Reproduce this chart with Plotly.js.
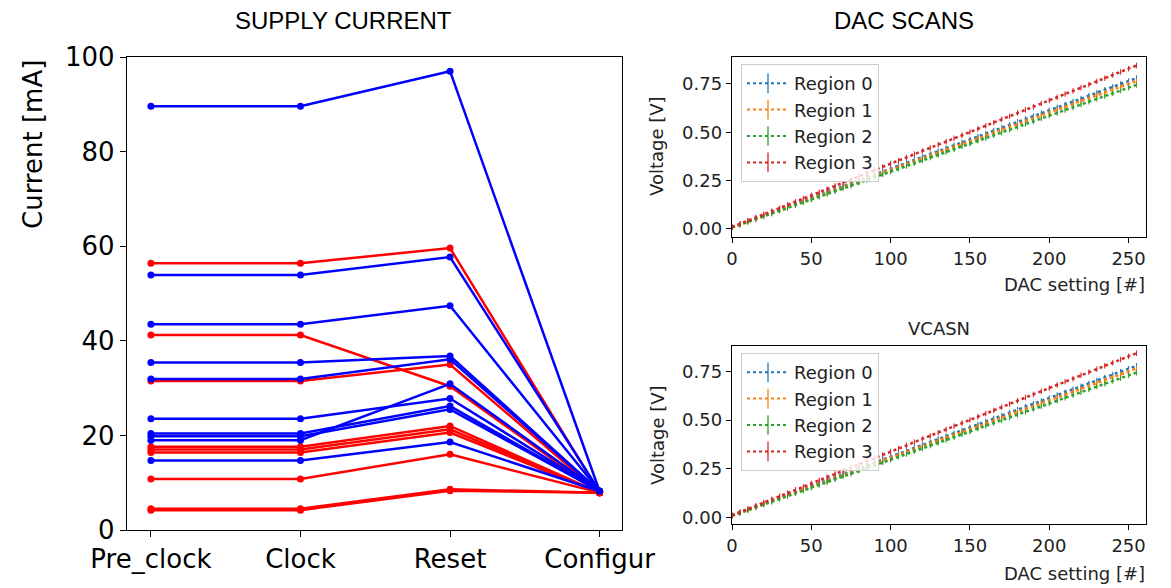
<!DOCTYPE html>
<html>
<head>
<meta charset="utf-8">
<script src="https://cdn.plot.ly/plotly-3.0.1.min.js"></script>
<style>html,body{margin:0;padding:0;background:#fff;}#chart{width:1171px;height:588px;}</style>
</head>
<body>
<div id="chart"></div>
<script>
// ---- Supply current (left) ----
const stages = ['Pre_clock', 'Clock', 'Reset', 'Configur'];
const blueCurrents = [
  [89.6, 89.6, 97.0, 8.2],
  [53.9, 53.9, 57.7, 8.2],
  [43.5, 43.5, 47.4, 8.2],
  [35.4, 35.4, 36.8, 8.2],
  [31.9, 31.9, 36.1, 8.2],
  [23.5, 23.5, 27.8, 8.2],
  [20.4, 20.4, 26.2, 8.2],
  [19.8, 19.8, 25.5, 8.2],
  [19.0, 19.0, 30.9, 8.2],
  [14.7, 14.7, 18.6, 8.2]
];
const redCurrents = [
  [56.4, 56.4, 59.6, 7.9],
  [41.2, 41.2, 30.4, 7.9],
  [31.5, 31.5, 35.0, 7.9],
  [17.6, 17.6, 22.0, 7.9],
  [17.0, 17.0, 21.3, 7.9],
  [16.4, 16.4, 20.6, 7.9],
  [10.8, 10.8, 16.0, 7.9],
  [4.5, 4.5, 8.6, 7.9],
  [4.2, 4.2, 8.3, 7.9]
];
const currentTicks = [0, 20, 40, 60, 80, 100];

// ---- DAC scans (right) ----
const dacSetting = [0,5,10,15,20,25,30,35,40,45,50,55,60,65,70,75,80,85,90,95,100,105,110,115,120,125,130,135,140,145,150,155,160,165,170,175,180,185,190,195,200,205,210,215,220,225,230,235,240,245,250,255];
const region0V = [0.010,0.025,0.040,0.055,0.070,0.085,0.101,0.116,0.131,0.146,0.161,0.176,0.191,0.206,0.221,0.236,0.252,0.267,0.282,0.297,0.312,0.327,0.342,0.357,0.372,0.387,0.403,0.418,0.433,0.448,0.463,0.478,0.493,0.508,0.523,0.538,0.554,0.569,0.584,0.599,0.614,0.629,0.644,0.659,0.674,0.689,0.705,0.720,0.735,0.750,0.765,0.780];
const region1V = [0.008,0.023,0.038,0.053,0.067,0.082,0.097,0.112,0.127,0.142,0.156,0.171,0.186,0.201,0.216,0.231,0.245,0.260,0.275,0.290,0.305,0.320,0.335,0.349,0.364,0.379,0.394,0.409,0.424,0.438,0.453,0.468,0.483,0.498,0.513,0.527,0.542,0.557,0.572,0.587,0.602,0.617,0.631,0.646,0.661,0.676,0.691,0.706,0.720,0.735,0.750,0.765];
const region2V = [0.007,0.021,0.036,0.050,0.065,0.079,0.094,0.108,0.123,0.137,0.152,0.166,0.181,0.195,0.210,0.224,0.239,0.253,0.267,0.282,0.296,0.311,0.325,0.340,0.354,0.369,0.383,0.398,0.412,0.427,0.441,0.456,0.470,0.485,0.499,0.513,0.528,0.542,0.557,0.571,0.586,0.600,0.615,0.629,0.644,0.658,0.673,0.687,0.702,0.716,0.731,0.745];
const region3V = [0.010,0.026,0.043,0.059,0.076,0.092,0.108,0.125,0.141,0.157,0.174,0.190,0.207,0.223,0.239,0.256,0.272,0.288,0.305,0.321,0.338,0.354,0.370,0.387,0.403,0.419,0.436,0.452,0.469,0.485,0.501,0.518,0.534,0.550,0.567,0.583,0.600,0.616,0.632,0.649,0.665,0.681,0.698,0.714,0.731,0.747,0.763,0.780,0.796,0.812,0.829,0.845];
const regionNames = ['Region 0', 'Region 1', 'Region 2', 'Region 3'];
const regionColors = ['#1f77b4', '#ff7f0e', '#2ca02c', '#d62728'];
const dacTicks = [0, 50, 100, 150, 200, 250];
const voltTicks = [0, 0.25, 0.5, 0.75];

const traces = [];
const stageIdx = stages.map((s, i) => i);
function addCurrent(vals, color) {
  traces.push({
    x: stageIdx, y: vals, type: 'scatter', mode: 'lines+markers',
    line: {color: color, width: 2.5}, marker: {color: color, size: 7},
    xaxis: 'x', yaxis: 'y', showlegend: false, hoverinfo: 'skip'
  });
}
const n = Math.max(blueCurrents.length, redCurrents.length);
for (let i = 0; i < n; i++) {
  if (blueCurrents[i]) addCurrent(blueCurrents[i], '#0000ff');
  if (redCurrents[i]) addCurrent(redCurrents[i], '#ff0000');
}

const regionData = [region0V, region1V, region2V, region3V];
[['x2', 'y2', 'legend'], ['x3', 'y3', 'legend2']].forEach(([xa, ya, lg]) => {
  regionData.forEach((vals, i) => {
    traces.push({
      x: dacSetting, y: vals, type: 'scatter', mode: 'lines+markers',
      name: regionNames[i], showlegend: false,
      line: {color: regionColors[i], width: 2.5, dash: 'dot'},
      marker: {symbol: 'line-ns-open', size: 4, color: regionColors[i], line: {color: regionColors[i], width: 1}},
      error_y: {type: 'constant', value: 0.006, color: regionColors[i], thickness: 1, width: 0},
      xaxis: xa, yaxis: ya, hoverinfo: 'skip'
    });
  });
  // legend entries (dotted line with an error-bar glyph, as in the reference legend)
  regionNames.forEach((name, i) => {
    traces.push({
      x: [null], y: [null], type: 'scatter', mode: 'lines+markers',
      name: name, legend: lg, showlegend: true,
      line: {color: regionColors[i], width: 2, dash: 'dot'},
      marker: {symbol: 'line-ns-open', size: 14, color: regionColors[i], line: {color: regionColors[i], width: 1.3}},
      xaxis: xa, yaxis: ya, hoverinfo: 'skip'
    });
  });
});

const W = 1171, H = 588;
const px = v => v / W, py = v => 1 - v / H;
const tickFontL = {family: 'DejaVu Sans', size: 26, color: '#000'};
const tickFontR = {family: 'DejaVu Sans', size: 18, color: '#222'};
const axBase = {showgrid: false, zeroline: false, showline: true, mirror: true, linecolor: '#000', linewidth: 1.2, ticks: 'outside', tickcolor: '#000', fixedrange: true};
function note(text, x, y, size, opts) {
  return Object.assign({text: text, x: px(x), y: py(y), xref: 'paper', yref: 'paper', xanchor: 'center', yanchor: 'middle', showarrow: false,
    font: {family: 'DejaVu Sans', size: size, color: '#222'}}, opts || {});
}

const layout = {
  width: W, height: H, margin: {l: 0, r: 0, t: 0, b: 0},
  paper_bgcolor: '#fff', plot_bgcolor: '#fff',
  xaxis: Object.assign({}, axBase, {domain: [px(127), px(622)], range: [-0.16, 3.15], tickvals: stageIdx, ticktext: stages, ticklen: 6, tickfont: tickFontL, anchor: 'y'}),
  yaxis: Object.assign({}, axBase, {domain: [py(530), py(57)], range: [0, 100], tickvals: currentTicks, ticklen: 6, tickfont: tickFontL, anchor: 'x'}),
  xaxis2: Object.assign({}, axBase, {domain: [px(732), px(1146)], range: [0, 261], tickvals: dacTicks, ticklen: 5, tickfont: tickFontR, anchor: 'y2'}),
  yaxis2: Object.assign({}, axBase, {domain: [py(236.7), py(56.7)], range: [-0.04, 0.891], tickvals: voltTicks, tickformat: '.2f', ticklen: 5, tickfont: tickFontR, anchor: 'x2'}),
  xaxis3: Object.assign({}, axBase, {domain: [px(732), px(1146)], range: [0, 261], tickvals: dacTicks, ticklen: 5, tickfont: tickFontR, anchor: 'y3'}),
  yaxis3: Object.assign({}, axBase, {domain: [py(524), py(346)], range: [-0.035, 0.882], tickvals: voltTicks, tickformat: '.2f', ticklen: 5, tickfont: tickFontR, anchor: 'x3'}),
  legend: {x: px(741), y: py(64), xanchor: 'left', yanchor: 'top', bgcolor: 'rgba(255,255,255,0.8)', bordercolor: '#cccccc', borderwidth: 1, font: {family: 'DejaVu Sans', size: 18, color: '#222'}, itemwidth: 42},
  legend2: {x: px(741), y: py(353), xanchor: 'left', yanchor: 'top', bgcolor: 'rgba(255,255,255,0.8)', bordercolor: '#cccccc', borderwidth: 1, font: {family: 'DejaVu Sans', size: 18, color: '#222'}, itemwidth: 42},
  annotations: [
    note('SUPPLY CURRENT', 343, 20, 24, {font: {family: 'Liberation Sans', size: 24, color: '#000'}}),
    note('DAC SCANS', 904, 20, 24, {font: {family: 'Liberation Sans', size: 24, color: '#000'}}),
    note('Current [mA]', 33, 145, 26, {textangle: -90, font: {family: 'DejaVu Sans', size: 26, color: '#000'}}),
    note('Voltage [V]', 657, 146, 18, {textangle: -90}),
    note('Voltage [V]', 657, 435, 18, {textangle: -90}),
    note('DAC setting [#]', 1147, 285, 18, {xanchor: 'right'}),
    note('DAC setting [#]', 1147, 573, 18, {xanchor: 'right'}),
    note('VCASN', 939, 328, 18)
  ]
};

Plotly.newPlot('chart', traces, layout, {staticPlot: true, displayModeBar: false});
</script>
</body>
</html>
